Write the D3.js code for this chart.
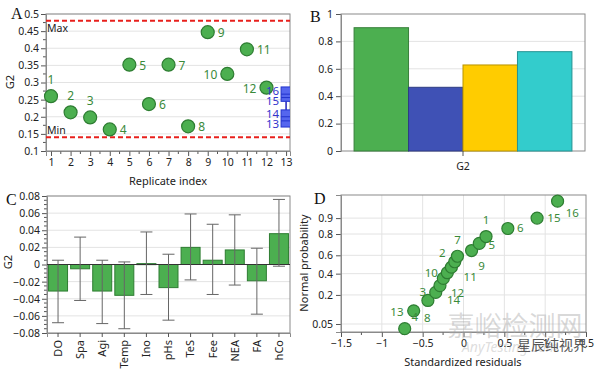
<!DOCTYPE html>
<html>
<head>
<meta charset="utf-8">
<script src="https://cdn.jsdelivr.net/npm/d3@7"></script>
<style>
  body { margin: 0; background: #fff; }
  svg text { font-family: 'Noto Sans', 'Open Sans', sans-serif; }
</style>
</head>
<body>
<div class="canvas"></div>
<script>
// ---- data ----
// panel A: G2 per replicate
const replicates = [1, 2, 3, 4, 5, 6, 7, 8, 9, 10, 11, 12];
const g2Values = [0.26, 0.213, 0.198, 0.163, 0.352, 0.237, 0.352, 0.172, 0.447, 0.325, 0.397, 0.285];
const centerReps = [13, 14, 15, 16];
const centerValues = [0.188, 0.2, 0.256, 0.266];
const centerBoxes = [[0.17, 0.22], [0.245, 0.287]];
const limitMax = 0.48;
const limitMin = 0.14;
const yTicksA = [0.1, 0.15, 0.2, 0.25, 0.3, 0.35, 0.4, 0.45, 0.5];

// panel B: one group, four bars
const seriesB = ['S1', 'S2', 'S3', 'S4'];
const valuesB = [0.9, 0.465, 0.628, 0.725];
const colorsB = ['#4CAF50', '#3F51B5', '#FFCC00', '#33CCCC'];

// panel C: effects with error bars
const factors = ['DO', 'Spa', 'Agi', 'Temp', 'Ino', 'pHs', 'TeS', 'Fee', 'NEA', 'FA', 'hCo'];
const effects = [-0.031, -0.005, -0.031, -0.036, 0.001, -0.027, 0.02, 0.005, 0.017, -0.019, 0.036];
const errLow = [-0.068, -0.042, -0.069, -0.075, -0.035, -0.065, -0.018, -0.035, -0.024, -0.058, -0.002];
const errHigh = [0.005, 0.032, 0.005, 0.003, 0.038, 0.012, 0.059, 0.047, 0.058, 0.019, 0.076];

// panel D: normal probability plot
const residuals = [-0.72, -0.61, -0.436, -0.34, -0.288, -0.247, -0.198, -0.148, -0.107, -0.074, 0.099, 0.193, 0.276, 0.543, 0.901, 1.152];
const probs = [0.038, 0.1, 0.16, 0.22, 0.28, 0.35, 0.41, 0.47, 0.53, 0.59, 0.65, 0.72, 0.78, 0.84, 0.9, 0.96];
const dLabels = ['16', '15', '6', '1', '5', '7', '9', '2', '10', '11', '3', '12', '14', '13', '4', '8'];
const dLabelX = [1.333, 1.107, 0.695, 0.276, 0.346, -0.074, 0.222, -0.259, -0.395, 0.082, -0.498, -0.074, -0.123, -0.815, -0.597, -0.444];
const dLabelP = [0.921, 0.899, 0.841, 0.89, 0.704, 0.75, 0.483, 0.627, 0.404, 0.361, 0.223, 0.213, 0.163, 0.093, 0.0745, 0.068];
const pTicks = [0.05, 0.2, 0.4, 0.6, 0.8, 0.9];
//---------------------------

const W = 600, H = 371;
const ptFill = '#4CAF50', ptStroke = '#2E7D32', lblGreen = '#3A8A3A';
const gridCol = '#e3e3e3', frameCol = '#8a8a8a';

const svg = d3.select('.canvas').append('svg')
    .attr('width', W).attr('height', H);

// inverse normal cdf (Acklam)
function qnorm(p) {
    const a = [-3.969683028665376e+01, 2.209460984245205e+02, -2.759285104469687e+02, 1.383577518672690e+02, -3.066479806614716e+01, 2.506628277459239e+00];
    const b = [-5.447609879822406e+01, 1.615858368580409e+02, -1.556989798598866e+02, 6.680131188771972e+01, -1.328068155288572e+01];
    const c = [-7.784894002430293e-03, -3.223964580411365e-01, -2.400758277161838e+00, -2.549732539343734e+00, 4.374664141464968e+00, 2.938163982698783e+00];
    const d = [7.784695709041462e-03, 3.224671290700398e-01, 2.445134137142996e+00, 3.754408661907416e+00];
    const pl = 0.02425;
    let q, r;
    if (p < pl) {
        q = Math.sqrt(-2 * Math.log(p));
        return (((((c[0]*q+c[1])*q+c[2])*q+c[3])*q+c[4])*q+c[5]) / ((((d[0]*q+d[1])*q+d[2])*q+d[3])*q+1);
    }
    if (p > 1 - pl) {
        q = Math.sqrt(-2 * Math.log(1 - p));
        return -(((((c[0]*q+c[1])*q+c[2])*q+c[3])*q+c[4])*q+c[5]) / ((((d[0]*q+d[1])*q+d[2])*q+d[3])*q+1);
    }
    q = p - 0.5; r = q * q;
    return (((((a[0]*r+a[1])*r+a[2])*r+a[3])*r+a[4])*r+a[5])*q / (((((b[0]*r+b[1])*r+b[2])*r+b[3])*r+b[4])*r+1);
}

// small helpers
function styleAxis(g, size) {
    g.select('.domain').attr('stroke', frameCol);
    g.selectAll('.tick line').attr('stroke', '#555');
    g.selectAll('.tick text').attr('fill', '#222').style('font-size', (size || 10.5) + 'px');
}
function frame(x0, y0, x1, y1) {
    svg.append('rect').attr('x', x0).attr('y', y0)
        .attr('width', x1 - x0).attr('height', y1 - y0)
        .attr('fill', 'none').attr('stroke', frameCol);
}
function hGrid(vals, scale, x0, x1) {
    svg.append('g').selectAll('line').data(vals).join('line')
        .attr('x1', x0).attr('x2', x1)
        .attr('y1', d => scale(d)).attr('y2', d => scale(d))
        .attr('stroke', gridCol);
}
function minorTicks(vals, scale, pos, dir) {
    svg.append('g').selectAll('line').data(vals).join('line')
        .attr(dir === 'y' ? 'x1' : 'y1', pos)
        .attr(dir === 'y' ? 'x2' : 'y2', dir === 'y' ? pos - 3 : pos + 3)
        .attr(dir === 'y' ? 'y1' : 'x1', d => scale(d))
        .attr(dir === 'y' ? 'y2' : 'x2', d => scale(d))
        .attr('stroke', '#555');
}
function panelLetter(t, x, y) {
    svg.append('text').attr('x', x).attr('y', y).text(t)
        .style('font-family', "'Liberation Serif', serif")
        .style('font-size', '16px').attr('fill', '#111');
}

// ================= Panel A =================
const xA = d3.scaleLinear().domain([0.745, 13.2]).range([46, 290]);
const yA = d3.scaleLinear().domain([0.1, 0.5]).range([151, 14]);

hGrid(yTicksA, yA, 46, 290);

svg.append('g').attr('transform', 'translate(46,0)')
    .call(d3.axisLeft(yA).tickValues(yTicksA).tickFormat(d3.format('.2~f')).tickSize(5).tickPadding(2))
    .call(g => styleAxis(g));
minorTicks(d3.range(0.125, 0.5, 0.05), yA, 46, 'y');

svg.append('g').attr('transform', 'translate(0,151)')
    .call(d3.axisBottom(xA).tickValues(d3.range(1, 14)).tickFormat(d3.format('d')).tickSize(5).tickPadding(3))
    .call(g => styleAxis(g));
minorTicks(d3.range(1.5, 13, 1), xA, 151, 'x');

frame(46, 14, 290, 151);

// limit lines
[limitMax, limitMin].forEach(v => {
    svg.append('line').attr('x1', 46).attr('x2', 290)
        .attr('y1', yA(v)).attr('y2', yA(v))
        .attr('stroke', '#e8201c').attr('stroke-width', 2).attr('stroke-dasharray', '5,3');
});
svg.append('text').attr('x', 47).attr('y', yA(limitMax) + 11).text('Max').style('font-size', '10.5px').attr('fill', '#222');
svg.append('text').attr('x', 47).attr('y', yA(limitMin) - 3).text('Min').style('font-size', '10.5px').attr('fill', '#222');

// center-point boxes at replicate 13
svg.append('clipPath').attr('id', 'clipA')
    .append('rect').attr('x', 46).attr('y', 14).attr('width', 244).attr('height', 137);
const boxG = svg.append('g').attr('clip-path', 'url(#clipA)');
boxG.append('line').attr('x1', xA(13)).attr('x2', xA(13))
    .attr('y1', yA(centerBoxes[0][1])).attr('y2', yA(centerBoxes[1][0]))
    .attr('stroke', '#2222bb').attr('stroke-width', 1.5);
boxG.selectAll('rect.box').data(centerBoxes).join('rect')
    .attr('x', xA(13) - 5).attr('width', 10)
    .attr('y', d => yA(d[1])).attr('height', d => yA(d[0]) - yA(d[1]))
    .attr('fill', '#5566ee').attr('stroke', '#2233cc');
boxG.selectAll('line.mid').data(centerValues).join('line')
    .attr('x1', xA(13) - 5).attr('x2', xA(13) + 5)
    .attr('y1', d => yA(d)).attr('y2', d => yA(d))
    .attr('stroke', '#2233cc');

// points
svg.append('g').selectAll('circle').data(replicates).join('circle')
    .attr('cx', d => xA(d)).attr('cy', (d, i) => yA(g2Values[i]))
    .attr('r', 6.5).attr('fill', ptFill).attr('stroke', ptStroke).attr('stroke-width', 1.2);

// labels of center points sit on top of point 12, like in the original
svg.append('g').selectAll('text').data(centerReps).join('text')
    .attr('x', xA(13) - 7)
    .attr('y', (d, i) => yA(centerValues[i]) + (i % 2 === 0 ? 7 : 1))
    .attr('text-anchor', 'end').text(d => d)
    .style('font-size', '11.5px').attr('fill', '#3333cc');

const placeA = { 1: 'above', 2: 'above', 3: 'above', 10: 'left', 12: 'left' };
svg.append('g').selectAll('text').data(replicates).join('text')
    .attr('x', d => {
        const p = placeA[d];
        return p === 'above' ? xA(d) : p === 'left' ? xA(d) - 10 : xA(d) + 10;
    })
    .attr('y', (d, i) => placeA[d] === 'above' ? yA(g2Values[i]) - 12 : yA(g2Values[i]) + 5)
    .attr('text-anchor', d => placeA[d] === 'above' ? 'middle' : placeA[d] === 'left' ? 'end' : 'start')
    .text(d => d).style('font-size', '12px').attr('fill', lblGreen);

svg.append('text').attr('x', 168).attr('y', 185).attr('text-anchor', 'middle')
    .text('Replicate index').style('font-size', '11px').attr('fill', '#222');
svg.append('text').attr('transform', 'translate(14,82) rotate(-90)').attr('text-anchor', 'middle')
    .text('G2').style('font-size', '11px').attr('fill', '#222');
panelLetter('A', 11, 19);

// ================= Panel B =================
const xB = d3.scaleBand().domain(seriesB).range([341, 585]).paddingInner(0).paddingOuter(0.24);
const yB = d3.scaleLinear().domain([0, 1]).range([151, 14]);

hGrid([0.2, 0.4, 0.6, 0.8], yB, 341, 585);
svg.append('g').attr('transform', 'translate(341,0)')
    .call(d3.axisLeft(yB).tickValues([0, 0.2, 0.4, 0.6, 0.8, 1]).tickFormat(d3.format('~g')).tickSize(5).tickPadding(3))
    .call(g => styleAxis(g));
frame(341, 14, 585, 151);

svg.append('g').selectAll('rect').data(seriesB).join('rect')
    .attr('x', d => xB(d)).attr('width', xB.bandwidth())
    .attr('y', (d, i) => yB(valuesB[i])).attr('height', (d, i) => yB(0) - yB(valuesB[i]))
    .attr('fill', (d, i) => colorsB[i])
    .attr('stroke', (d, i) => d3.color(colorsB[i]).darker(0.9));

svg.append('line').attr('x1', 463).attr('x2', 463).attr('y1', 151).attr('y2', 156).attr('stroke', '#555');
svg.append('text').attr('x', 463).attr('y', 170).attr('text-anchor', 'middle')
    .text('G2').style('font-size', '10.5px').attr('fill', '#222');
panelLetter('B', 310, 22);

// ================= Panel C =================
const xC = d3.scaleBand().domain(factors).range([47, 290]).paddingInner(0.14).paddingOuter(0.07);
const yC = d3.scaleLinear().domain([-0.08, 0.08]).range([333, 196]);
const yTicksC = d3.range(-0.08, 0.081, 0.02);

hGrid(yTicksC, yC, 47, 290);
svg.append('g').attr('transform', 'translate(47,0)')
    .call(d3.axisLeft(yC).tickValues(yTicksC).tickFormat(d => Math.abs(d) < 1e-9 ? '0' : d3.format('.2f')(d)).tickSize(5).tickPadding(2))
    .call(g => styleAxis(g));
minorTicks(d3.range(-0.08, 0.08, 0.005).filter((d, i) => i % 4 !== 0), yC, 47, 'y');
frame(47, 196, 290, 333);

svg.append('g').selectAll('rect').data(factors).join('rect')
    .attr('x', d => xC(d)).attr('width', xC.bandwidth())
    .attr('y', (d, i) => yC(Math.max(0, effects[i])))
    .attr('height', (d, i) => Math.max(1, Math.abs(yC(effects[i]) - yC(0))))
    .attr('fill', ptFill).attr('stroke', '#2E7D32');

svg.append('line').attr('x1', 47).attr('x2', 290).attr('y1', yC(0)).attr('y2', yC(0)).attr('stroke', '#333');

const eb = svg.append('g').attr('stroke', '#666').attr('stroke-width', 1);
factors.forEach((f, i) => {
    const cx = xC(f) + xC.bandwidth() / 2;
    eb.append('line').attr('x1', cx).attr('x2', cx).attr('y1', yC(errLow[i])).attr('y2', yC(errHigh[i]));
    [errLow[i], errHigh[i]].forEach(v => {
        eb.append('line').attr('x1', cx - 6).attr('x2', cx + 6).attr('y1', yC(v)).attr('y2', yC(v));
    });
});

const xAxC = svg.append('g').attr('transform', 'translate(0,333)')
    .call(d3.axisBottom(xC).tickSize(4).tickPadding(3))
    .call(g => styleAxis(g, 11));
xAxC.selectAll('.tick text')
    .attr('transform', 'rotate(-90)').attr('text-anchor', 'end')
    .attr('x', -7).attr('y', 0).attr('dy', '0.35em');

svg.append('text').attr('transform', 'translate(12,262) rotate(-90)').attr('text-anchor', 'middle')
    .text('G2').style('font-size', '11px').attr('fill', '#222');
panelLetter('C', 6, 205);

// ================= Panel D =================
const xD = d3.scaleLinear().domain([-1.5, 1.5]).range([341, 586]);
const zD = d3.scaleLinear().domain([-1.866, 1.92]).range([332, 195]);
const yD = p => zD(qnorm(p));

hGrid(pTicks.map(qnorm), zD, 341, 586);
svg.append('g').selectAll('line').data([-1, -0.5, 0, 0.5, 1]).join('line')
    .attr('x1', d => xD(d)).attr('x2', d => xD(d)).attr('y1', 195).attr('y2', 332)
    .attr('stroke', gridCol);

svg.append('g').attr('transform', 'translate(341,0)')
    .call(d3.axisLeft(zD).tickValues(pTicks.map(qnorm)).tickFormat((d, i) => pTicks[i]).tickSize(5).tickPadding(3))
    .call(g => styleAxis(g));
svg.append('g').attr('transform', 'translate(0,332)')
    .call(d3.axisBottom(xD).tickValues([-1.5, -1, -0.5, 0, 0.5, 1, 1.5]).tickFormat(d3.format('~g')).tickSize(5).tickPadding(3))
    .call(g => styleAxis(g));
minorTicks(d3.range(-1.25, 1.5, 0.5), xD, 332, 'x');
frame(341, 195, 586, 332);

svg.append('g').selectAll('circle').data(residuals).join('circle')
    .attr('cx', d => xD(d)).attr('cy', (d, i) => yD(probs[i]))
    .attr('r', 6).attr('fill', ptFill).attr('stroke', ptStroke).attr('stroke-width', 1.2);

svg.append('g').selectAll('text').data(dLabels).join('text')
    .attr('x', (d, i) => xD(dLabelX[i])).attr('y', (d, i) => yD(dLabelP[i]) + 4)
    .attr('text-anchor', 'middle').text(d => d)
    .style('font-size', '11.5px').attr('fill', lblGreen);

svg.append('text').attr('x', 463).attr('y', 366).attr('text-anchor', 'middle')
    .text('Standardized residuals').style('font-size', '11px').attr('fill', '#222');
svg.append('text').attr('transform', 'translate(308,263) rotate(-90)').attr('text-anchor', 'middle')
    .text('Normal probability').style('font-size', '11px').attr('fill', '#222');
panelLetter('D', 314, 204);

// watermark
svg.append('text').attr('x', 515).attr('y', 336).attr('text-anchor', 'middle')
    .text('嘉峪检测网').style('font-family', "'Noto Sans CJK SC', sans-serif")
    .style('font-size', '27px').attr('fill', 'rgba(170,170,170,0.45)');
svg.append('text').attr('x', 510).attr('y', 352).attr('text-anchor', 'middle')
    .text('AnyTesting.com').style('font-size', '14px').style('font-style', 'italic')
    .attr('fill', 'rgba(170,170,170,0.4)');
svg.append('text').attr('x', 552).attr('y', 350).attr('text-anchor', 'middle')
    .text('星辰纯视界').style('font-family', "'Noto Sans CJK SC', sans-serif")
    .style('font-size', '14px').attr('fill', '#555');
</script>
</body>
</html>
